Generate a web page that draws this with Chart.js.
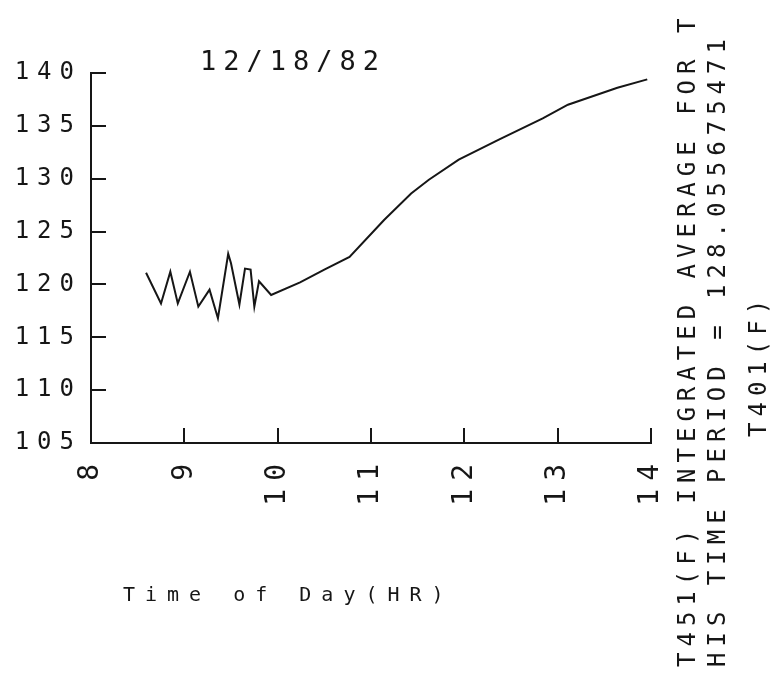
<!DOCTYPE html>
<html>
<head>
<meta charset="utf-8">
<title>T451(F) 12/18/82</title>
<script src="https://cdn.jsdelivr.net/npm/chart.js@4/dist/chart.umd.min.js"></script>
<style>
  html, body { margin: 0; padding: 0; background: #fff; }
  canvas { display: block; }
</style>
</head>
<body>
<canvas id="plot" width="778" height="681"></canvas>
<script>
  // time of day (hours) and temperature (F)
  var hours = [8.59, 8.75, 8.85, 8.93, 9.06, 9.15, 9.27, 9.36, 9.47, 9.50,
               9.59, 9.65, 9.71, 9.75, 9.80, 9.93, 10.24, 10.50, 10.77, 11.14,
               11.43, 11.62, 11.94, 12.37, 12.84, 13.11, 13.64, 13.96];
  var temps = [121.1, 118.2, 121.2, 118.2, 121.2, 117.9, 119.5, 116.8, 122.9, 122.0,
               118.1, 121.5, 121.4, 117.9, 120.3, 119.0, 120.2, 121.4, 122.6, 126.1,
               128.6, 129.9, 131.8, 133.7, 135.7, 137.0, 138.6, 139.4];

  var dateLabel = "12/18/82";
  var xTitle = "Time of Day(HR)";
  var sideLines = [
    "T451(F) INTEGRATED AVERAGE FOR T",
    "HIS TIME PERIOD = 128.055675471"
  ];
  var sideLabel = "T401(F)";

  var ink = "#161616";
  var mono = "'DejaVu Sans Mono', 'Liberation Mono', monospace";

  var points = hours.map(function (h, i) {
    return { x: h, y: temps[i] };
  });

  function spaced(ctx, px) {
    if ("letterSpacing" in ctx) ctx.letterSpacing = px + "px";
  }

  function text(ctx, str, x, y, size, gap, rot) {
    ctx.save();
    ctx.font = size + "px " + mono;
    ctx.fillStyle = ink;
    spaced(ctx, gap);
    ctx.textAlign = "left";
    ctx.textBaseline = "middle";
    ctx.translate(x, y);
    if (rot) ctx.rotate(rot);
    ctx.fillText(str, 0, 0);
    ctx.restore();
  }

  var plotterText = {
    id: "plotterText",
    beforeDraw: function (chart) {
      spaced(chart.ctx, 8);
    },
    afterDraw: function (chart) {
      var ctx = chart.ctx;
      text(ctx, dateLabel, 200, 63, 27, 7);
      text(ctx, xTitle, 123, 596, 20, 10);
      text(ctx, sideLines[0], 689, 667, 24, 6, -Math.PI / 2);
      text(ctx, sideLines[1], 719, 667, 24, 6, -Math.PI / 2);
      text(ctx, sideLabel, 760, 437, 24, 6, -Math.PI / 2);
    }
  };

  new Chart(document.getElementById("plot"), {
    type: "line",
    data: {
      datasets: [{
        data: points,
        borderColor: ink,
        borderWidth: 2,
        pointRadius: 0,
        tension: 0,
        fill: false
      }]
    },
    options: {
      responsive: false,
      animation: false,
      layout: { padding: { left: 0, right: 127, top: 73, bottom: 138 } },
      plugins: {
        legend: { display: false },
        tooltip: { enabled: false }
      },
      scales: {
        x: {
          type: "linear",
          min: 8,
          max: 14,
          border: { color: ink, width: 2 },
          grid: { drawOnChartArea: false, tickLength: -15, color: ink, lineWidth: 2 },
          ticks: {
            stepSize: 1,
            minRotation: 90,
            maxRotation: 90,
            padding: 28,
            color: ink,
            font: { family: mono, size: 28 }
          },
          afterFit: function (s) { s.height = 100; }
        },
        y: {
          min: 105,
          max: 140,
          border: { color: ink, width: 2 },
          grid: { drawOnChartArea: false, tickLength: -15, color: ink, lineWidth: 2 },
          ticks: {
            stepSize: 5,
            padding: 24,
            color: ink,
            font: { family: mono, size: 24 }
          },
          afterFit: function (s) { s.width = 91; }
        }
      }
    },
    plugins: [plotterText]
  });
</script>
</body>
</html>
